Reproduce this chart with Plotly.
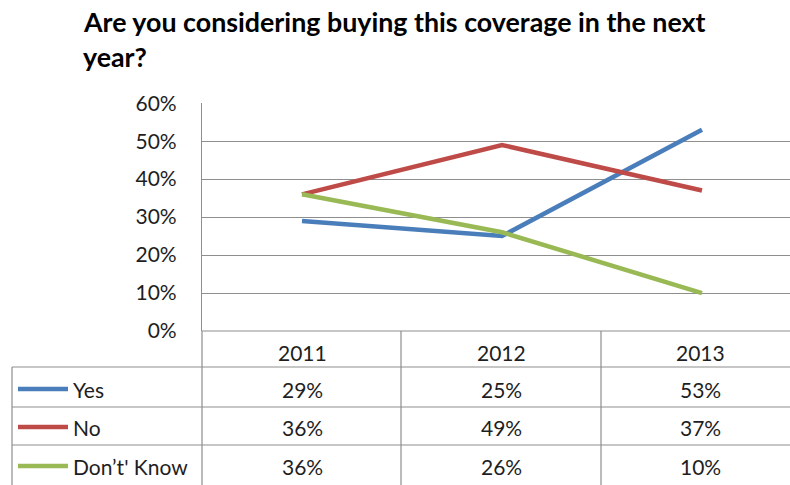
import plotly.graph_objects as go

# Survey results by year
years = ["2011", "2012", "2013"]
series_names = ["Yes", "No", "Don\u2019t' Know"]
yes_vals = [0.29, 0.25, 0.53]
no_vals = [0.36, 0.49, 0.37]
dk_vals = [0.36, 0.26, 0.10]
y_ticks = [0.0, 0.1, 0.2, 0.3, 0.4, 0.5, 0.6]

colors = ["#4A7EBB", "#BE4B48", "#98B954"]
all_vals = [yes_vals, no_vals, dk_vals]

W, H = 790, 485
PLOT_L, PLOT_R = 202, 790
PLOT_T, PLOT_B = 103, 331
FONT = "Lato"
GRID = "#8E8E8E"
TEXT = "#1E1E1E"
LABEL_SIZE = 21


def px_x(px):
    return (px - PLOT_L) / (PLOT_R - PLOT_L)


def px_y(py):
    return (PLOT_B - py) / (PLOT_B - PLOT_T)


fig = go.Figure()
for name, vals, c in zip(series_names, all_vals, colors):
    fig.add_trace(go.Scatter(
        x=list(range(len(years))), y=vals, name=name, mode="lines",
        line=dict(color=c, width=4.5), showlegend=False, hoverinfo="skip",
    ))

shapes = []
annotations = []

# Title, two lines
for text, yc in [("Are you considering buying this coverage in the next", 22),
                 ("year?", 57)]:
    annotations.append(dict(
        text=text, xref="paper", yref="paper", x=px_x(81), y=px_y(yc),
        xanchor="left", yanchor="middle", showarrow=False,
        font=dict(family=FONT, size=26.8, color="#000000", weight="bold"),
    ))

# Data table beneath the axis
row_lines = [367, 407, 445]
col_lines = [202, 401, 601]
bottom = 500


def hline(py, x0, x1):
    shapes.append(dict(type="line", xref="paper", yref="paper",
                       x0=px_x(x0), x1=px_x(x1), y0=px_y(py), y1=px_y(py),
                       line=dict(color=GRID, width=1.2)))


def vline(px, y0, y1):
    shapes.append(dict(type="line", xref="paper", yref="paper",
                       x0=px_x(px), x1=px_x(px), y0=px_y(y0), y1=px_y(y1),
                       line=dict(color=GRID, width=1.2)))


hline(PLOT_B, 202, 790)
for r in row_lines:
    hline(r, 12, 790)
for c in col_lines:
    vline(c, PLOT_B, bottom)
vline(12, row_lines[0], bottom)

col_centers = [302, 501, 700]
header_y = 352
row_centers = [389, 427, 466]

for yr, cx in zip(years, col_centers):
    annotations.append(dict(
        text=yr, xref="paper", yref="paper", x=px_x(cx), y=px_y(header_y),
        xanchor="center", yanchor="middle", showarrow=False,
        font=dict(family=FONT, size=LABEL_SIZE, color=TEXT),
    ))

for name, vals, c, ry in zip(series_names, all_vals, colors, row_centers):
    shapes.append(dict(type="line", xref="paper", yref="paper",
                       x0=px_x(18), x1=px_x(68), y0=px_y(ry), y1=px_y(ry),
                       line=dict(color=c, width=4.5)))
    annotations.append(dict(
        text=name, xref="paper", yref="paper", x=px_x(71), y=px_y(ry),
        xanchor="left", yanchor="middle", showarrow=False,
        font=dict(family=FONT, size=LABEL_SIZE, color=TEXT),
    ))
    for v, cx in zip(vals, col_centers):
        annotations.append(dict(
            text=f"{round(v * 100)}%", xref="paper", yref="paper",
            x=px_x(cx), y=px_y(ry), xanchor="center", yanchor="middle",
            showarrow=False, font=dict(family=FONT, size=LABEL_SIZE, color=TEXT),
        ))

fig.update_layout(
    width=W, height=H,
    margin=dict(l=PLOT_L, r=W - PLOT_R, t=PLOT_T, b=H - PLOT_B, pad=0),
    paper_bgcolor="white", plot_bgcolor="white",
    font=dict(family=FONT, color=TEXT),
    xaxis=dict(range=[-0.5, -0.5 + (PLOT_R - PLOT_L) / 200.0],
               showticklabels=False, showgrid=False, zeroline=False,
               showline=False, fixedrange=True),
    yaxis=dict(range=[0, 0.6005], tickvals=y_ticks, tickformat=".0%",
               showgrid=True, gridcolor=GRID, gridwidth=1.2,
               zeroline=False, showline=True, linecolor=GRID, linewidth=1.2,
               ticks="", ticklabelstandoff=20,
               tickfont=dict(family=FONT, size=LABEL_SIZE, color=TEXT),
               fixedrange=True),
    shapes=shapes, annotations=annotations,
)

fig.write_html("out.html")
